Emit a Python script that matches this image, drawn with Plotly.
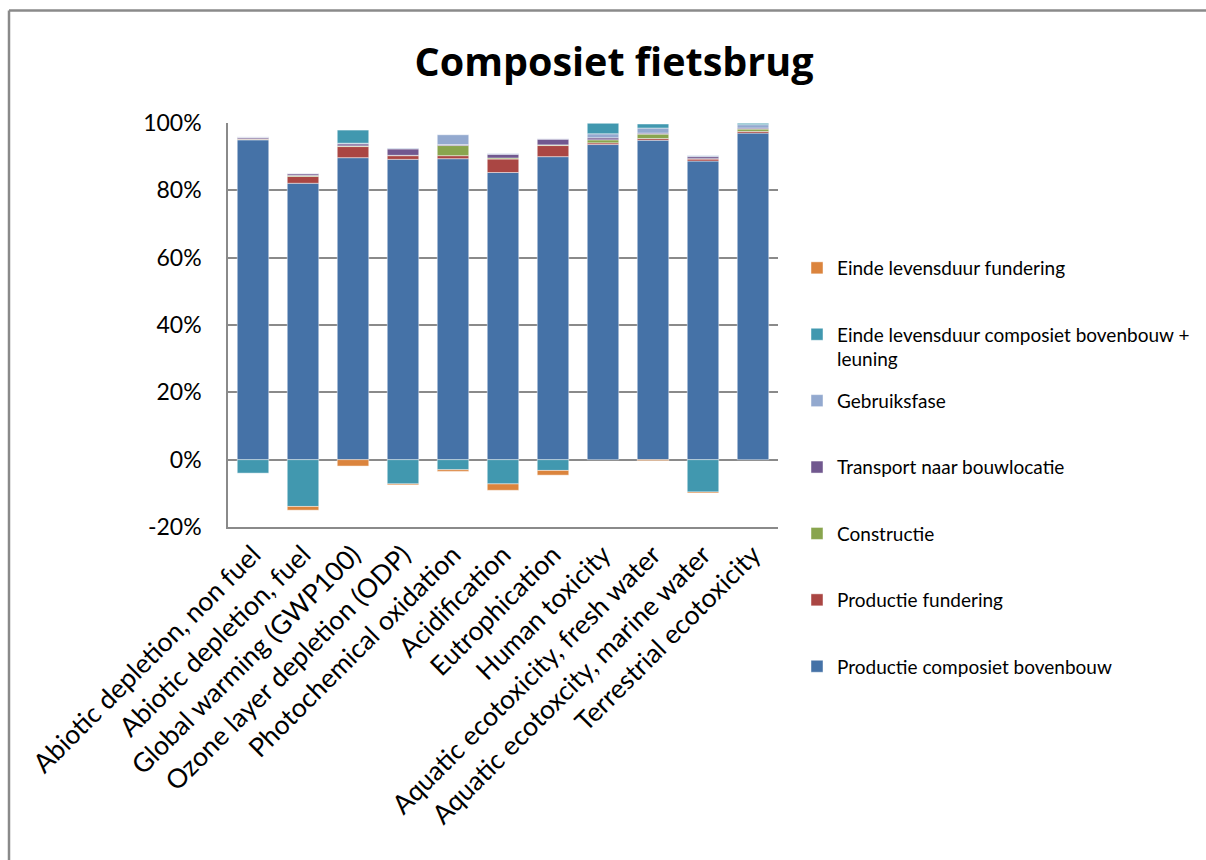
import plotly.graph_objects as go

categories = [
    "Abiotic depletion, non fuel",
    "Abiotic depletion, fuel",
    "Global warming (GWP100)",
    "Ozone layer depletion (ODP)",
    "Photochemical oxidation",
    "Acidification",
    "Eutrophication",
    "Human toxicity",
    "Aquatic ecotoxicity, fresh water",
    "Aquatic ecotoxcity, marine water",
    "Terrestrial ecotoxicity",
]

productie_composiet = [95.0, 82.1, 89.7, 89.2, 89.4, 85.3, 90.0, 93.6, 94.9, 88.7, 97.0]
productie_fundering = [0.2, 2.0, 3.3, 1.1, 0.9, 4.0, 3.3, 0.5, 0.5, 0.6, 0.5]
constructie = [0.1, 0.3, 0.2, 0.1, 3.0, 0.3, 0.2, 0.9, 1.3, 0.1, 0.7]
transport = [0.4, 0.5, 0.6, 1.9, 0.3, 1.1, 1.7, 0.6, 0.3, 0.6, 0.3]
gebruiksfase = [0.2, 0.1, 0.2, 0.2, 2.9, 0.2, 0.1, 1.2, 1.5, 0.3, 1.0]
einde_composiet = [-4.0, -13.9, 3.9, -7.2, -3.0, -7.2, -3.2, 3.2, 1.2, -9.6, 0.5]
einde_fundering = [0.0, -1.1, -1.9, -0.3, -0.5, -1.9, -1.4, 0.0, -0.3, -0.3, 0.0]

y_ticks = [-20, 0, 20, 40, 60, 80, 100]
y_tick_labels = ["-20%", "0%", "20%", "40%", "60%", "80%", "100%"]

series = [
    ("Productie composiet bovenbouw", productie_composiet, "#4572A7"),
    ("Productie fundering", productie_fundering, "#AA4643"),
    ("Constructie", constructie, "#89A54E"),
    ("Transport naar bouwlocatie", transport, "#71588F"),
    ("Gebruiksfase", gebruiksfase, "#93A9CF"),
    ("Einde levensduur composiet bovenbouw +<br>leuning", einde_composiet, "#4198AF"),
    ("Einde levensduur fundering", einde_fundering, "#DB843D"),
]

FONT = "Lato"

fig = go.Figure()
n = len(series)
for i, (name, vals, color) in enumerate(series):
    lines = name.count("<br>") + 1
    padded = name + "<br>&nbsp;" * (2 - lines)
    fig.add_trace(go.Bar(
        x=categories, y=vals, name=padded,
        legendgroup="g%d" % i,
        legendrank=n - i,
        marker=dict(color=color, line=dict(color="rgba(255,255,255,0.45)", width=1)),
    ))

fig.update_layout(
    width=1206, height=860,
    barmode="relative",
    bargap=0.37,
    plot_bgcolor="white",
    paper_bgcolor="white",
    margin=dict(l=228, r=428, t=123, b=333, autoexpand=False),
    font=dict(family=FONT, color="#000000"),
    title=dict(
        text="<b>Composiet fietsbrug</b>",
        font=dict(family="Open Sans", size=39.5, color="#000000"),
        x=614 / 1206, xanchor="center",
        y=1 - 62 / 860, yanchor="middle",
    ),
    legend=dict(
        x=(797 - 228) / 550, xanchor="left",
        yref="container",
        y=1 - 249 / 860, yanchor="top",
        traceorder="grouped",
        tracegroupgap=14,
        valign="top",
        maxheight=800,
        font=dict(family=FONT, size=19, color="#000000"),
        bgcolor="rgba(0,0,0,0)",
    ),
    showlegend=True,
)

fig.update_yaxes(
    range=[-20, 100],
    tickvals=y_ticks,
    ticktext=y_tick_labels,
    showgrid=True, gridcolor="#8a8a8a", gridwidth=1.5,
    zeroline=True, zerolinecolor="#8a8a8a", zerolinewidth=1.5,
    showline=True, linecolor="#8a8a8a", linewidth=1.5,
    ticks="", ticklabelstandoff=20,
    tickfont=dict(family=FONT, size=23, color="#000000"),
)
fig.update_xaxes(
    type="category",
    tickangle=-45,
    showline=True, linecolor="#8a8a8a", linewidth=1.5,
    ticks="",
    tickfont=dict(family=FONT, size=26.5, color="#000000"),
)

# outer chart-area border (left and top edges visible)
top_y = (526.7 - 11) / 403.4
left_x = (9 - 228) / 550
fig.add_shape(type="line", xref="paper", yref="paper",
              x0=left_x, x1=3, y0=top_y, y1=top_y,
              line=dict(color="#8a8a8a", width=2.5))
fig.add_shape(type="line", xref="paper", yref="paper",
              x0=left_x, x1=left_x, y0=-3, y1=top_y,
              line=dict(color="#8a8a8a", width=2.5))

fig.write_html("out.html")
